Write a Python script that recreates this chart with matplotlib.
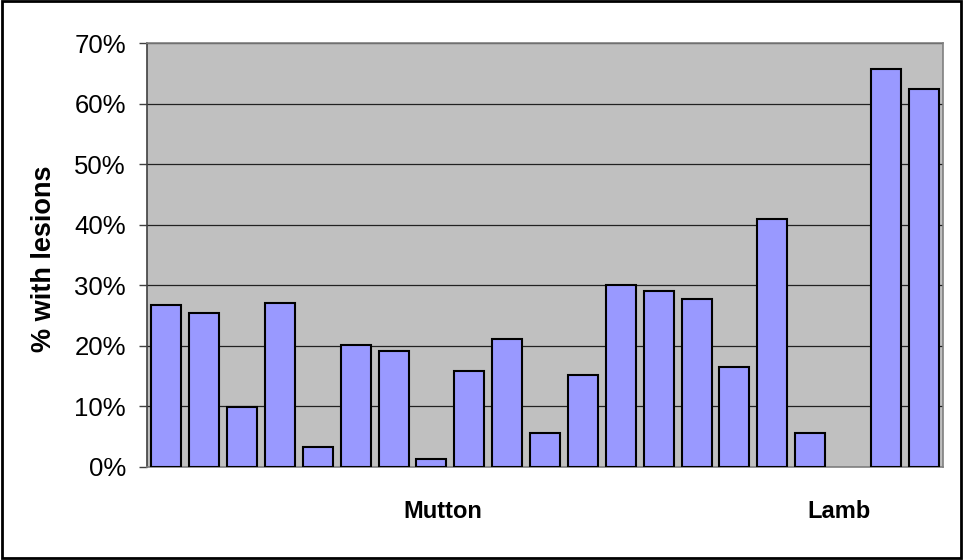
import matplotlib.pyplot as plt
import numpy as np
from matplotlib.patches import Rectangle
from matplotlib.ticker import PercentFormatter

plt.rcParams['font.family'] = ['Liberation Sans', 'DejaVu Sans']

# % with lesions per batch
mutton = [26.7, 25.4, 9.8, 27.0, 3.3, 20.1, 19.2, 1.3, 15.8, 21.1,
          5.6, 15.2, 30.0, 29.0, 27.7, 16.5, 40.9, 5.5]
lamb = [65.7, 62.4]
group_names = ['Mutton', 'Lamb']
group_label_pos = [7.3, 17.75]   # where the group names sit on the category axis
y_ticks = [0, 10, 20, 30, 40, 50, 60, 70]

values = mutton + [np.nan] + lamb   # one empty slot between the groups
x = np.arange(len(values))

fig = plt.figure(figsize=(9.63, 5.60), dpi=100)
ax = fig.add_axes([0.153, 0.1666, 0.826, 0.7561])
ax.set_facecolor('#c0c0c0')

ax.bar(x, values, width=0.79, color='#9999ff', edgecolor='black', linewidth=1.5, zorder=3)

ax.set_xlim(-0.5, len(values) - 0.5)
ax.set_ylim(0, 70)
ax.set_yticks(y_ticks)
ax.yaxis.set_major_formatter(PercentFormatter(decimals=0))
ax.grid(axis='y', color='#222222', linewidth=0.9, zorder=1)

ax.set_xticks(group_label_pos)
ax.set_xticklabels(group_names, fontsize=17, fontweight='bold')
ax.tick_params(axis='x', length=0, pad=24)
ax.tick_params(axis='y', length=6, width=1, color='#404040', labelsize=18.5, pad=9.5, direction='out')

ax.set_ylabel('% with lesions', fontsize=19.5, fontweight='bold')
ax.yaxis.set_label_coords(-0.113, 0.49)

for side in ['top', 'right', 'bottom']:
    ax.spines[side].set_color('#808080')
    ax.spines[side].set_linewidth(1.2)
ax.spines['left'].set_color('#404040')
ax.spines['left'].set_linewidth(1.2)

# black frame round the whole chart
fig.patches.append(Rectangle((0.002, 0.004), 0.996, 0.994, transform=fig.transFigure,
                             fill=False, edgecolor='black', linewidth=2))

plt.savefig('out.png', dpi=100)
